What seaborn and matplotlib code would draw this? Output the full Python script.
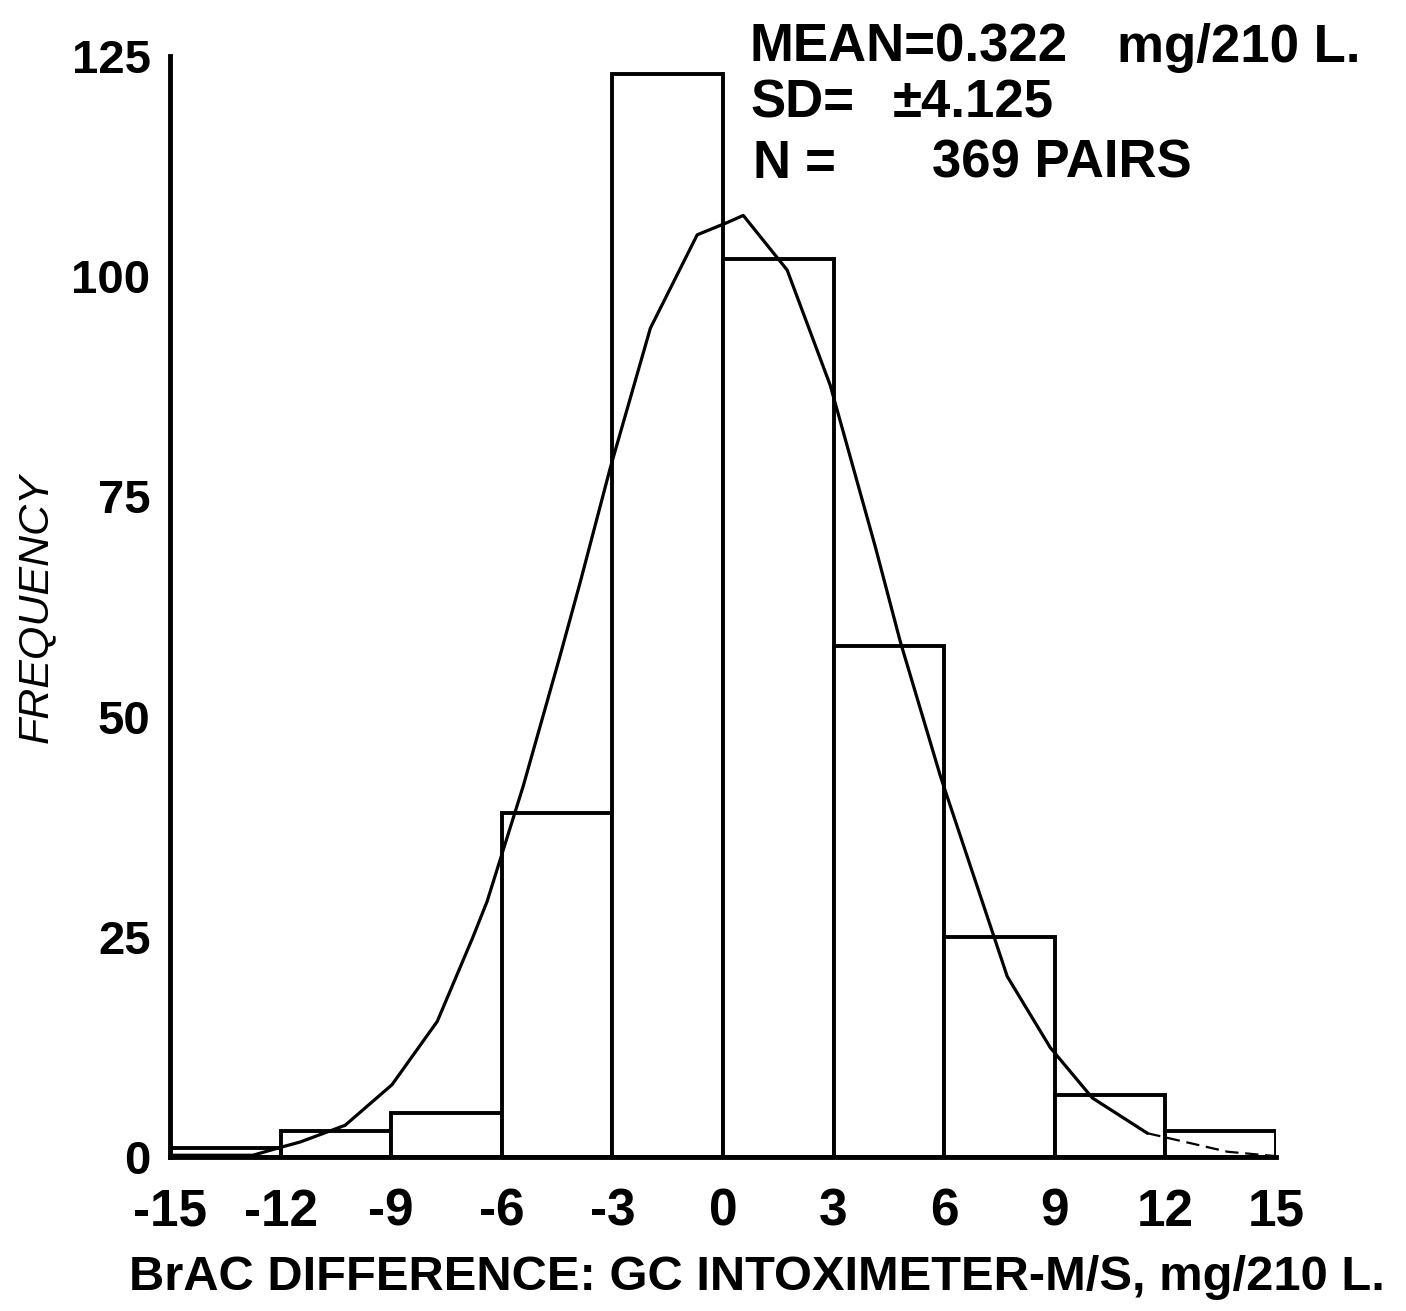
import matplotlib
matplotlib.use("Agg")
import matplotlib.pyplot as plt
import seaborn as sns
import pandas as pd

# Histogram of paired BrAC differences (mg/210 L), 3-unit bins
bin_edges = [-15, -12, -9, -6, -3, 0, 3, 6, 9, 12, 15]
bin_centers = [-13.5, -10.5, -7.5, -4.5, -1.5, 1.5, 4.5, 7.5, 10.5, 13.5]
frequencies = [1, 3, 5, 39, 123, 102, 58, 25, 7, 3]

# Fitted frequency curve, traced as a polyline
curve_x = [-15.0, -12.75, -12.0, -11.47, -10.25, -8.98, -7.75, -6.78, -6.40,
           -5.42, -4.42, -3.87, -3.06, -1.97, -0.70, 0.12, 0.55, 1.74, 2.91,
           4.13, 4.81, 5.90, 7.71, 8.88, 10.02, 11.51]
curve_y = [0.2, 0.2, 1.1, 1.7, 3.6, 8.2, 15.4, 25.0, 29.0,
           42.1, 56.9, 65.3, 78.2, 94.1, 104.7, 106.1, 106.9, 100.7, 87.6,
           69.3, 58.5, 43.2, 20.5, 12.4, 6.7, 2.7]
tail_x = [11.51, 13.68, 14.99]
tail_y = [2.7, 0.6, 0.1]

x_ticks = [-15, -12, -9, -6, -3, 0, 3, 6, 9, 12, 15]
y_ticks = [0, 25, 50, 75, 100, 125]

stats_mean = "MEAN=0.322"
stats_unit = "mg/210 L."
stats_sd = ("SD=", "\u00b14.125")
stats_n = ("N", "=", "369 PAIRS")
x_title = "BrAC DIFFERENCE: GC INTOXIMETER-M/S, mg/210 L."
y_title = "FREQUENCY"

sns.set_theme(style="white")
plt.rcParams["font.family"] = ["Liberation Sans", "DejaVu Sans"]

W, H = 1406, 1311
fig = plt.figure(figsize=(W / 100, H / 100), dpi=100)
ax = fig.add_axes([170 / W, (H - 1157) / H, 1106 / W, 1101 / H])

hist_df = pd.DataFrame({"diff": bin_centers, "freq": frequencies})
sns.histplot(data=hist_df, x="diff", weights="freq", bins=bin_edges,
             color="white", edgecolor="black", linewidth=2.8, alpha=1,
             ax=ax, zorder=2)

curve_df = pd.DataFrame({"x": curve_x, "y": curve_y})
sns.lineplot(data=curve_df, x="x", y="y", sort=False, color="black",
             linewidth=2.3, ax=ax, zorder=3)
tail_df = pd.DataFrame({"x": tail_x, "y": tail_y})
sns.lineplot(data=tail_df, x="x", y="y", sort=False, color="black",
             linewidth=1.6, linestyle=(0, (6, 3)), ax=ax, zorder=3)

ax.set_xlim(-15, 15)
ax.set_ylim(0, 125)
ax.set_xticks(x_ticks)
ax.set_xticklabels([str(t) for t in x_ticks], fontsize=37)
ax.set_yticks(y_ticks)
ax.set_yticklabels([str(t) for t in y_ticks], fontsize=34)
ax.tick_params(axis="x", length=0, pad=22, colors="black")
ax.tick_params(axis="y", direction="in", length=26, width=3, pad=14, colors="black")
for lbl in ax.get_yticklabels() + ax.get_xticklabels():
    lbl.set_fontweight("bold")

sns.despine(ax=ax, top=True, right=True)
for side in ("left", "bottom"):
    ax.spines[side].set_linewidth(3.5)
    ax.spines[side].set_color("black")
ax.set_xlabel("")
ax.set_ylabel("")

# Summary statistics block
txt = dict(fontsize=38, color="black", va="baseline", ha="left", fontweight="bold")
fig.text(750 / W, 1 - 62 / H, stats_mean, **txt)
fig.text(1117 / W, 1 - 62 / H, stats_unit, **txt)
fig.text(750 / W, 1 - 118 / H, stats_sd[0], **txt)
fig.text(893 / W, 1 - 118 / H, stats_sd[1], **txt)
fig.text(752 / W, 1 - 178 / H, stats_n[0], **txt)
fig.text(805 / W, 1 - 178 / H, stats_n[1], **txt)
fig.text(932 / W, 1 - 178 / H, stats_n[2], **txt)

# Axis titles; the x title is sized to span the width under the axis
xt = fig.text(757 / W, 1 - 1290 / H, x_title, fontsize=34, ha="center",
              va="baseline", fontweight="bold", color="black")
renderer = fig.canvas.get_renderer()
span = xt.get_window_extent(renderer).width
xt.set_fontsize(34 * 1255 / span)

fig.text(36 / W, 1 - 608 / H, y_title, fontsize=31, rotation=90, ha="center",
         va="center", style="italic", color="black")

fig.savefig("out.png", dpi=100, facecolor="white")
